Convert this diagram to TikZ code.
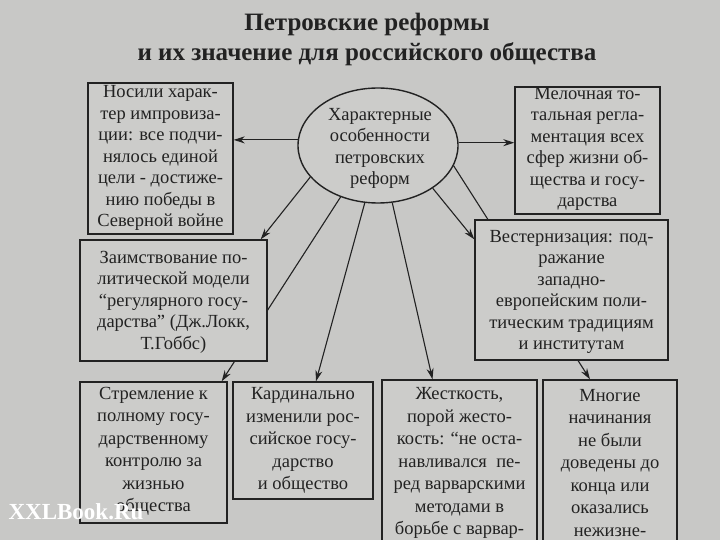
\documentclass[tikz,border=0pt]{standalone}
\usepackage{fontspec}
\setmainfont{Liberation Serif}
\usetikzlibrary{arrows.meta,shapes.geometric,calc}
\definecolor{paper}{RGB}{200,200,198}
\definecolor{boxfill}{RGB}{204,204,202}
\definecolor{ink}{RGB}{34,34,34}
\pgfdeclarelayer{bg}
\pgfsetlayers{bg,main}
\begin{document}
\begin{tikzpicture}[x=1pt,y=-1pt,
  box/.style={draw=ink,line width=1.4pt,fill=boxfill,rectangle,inner sep=0pt},
  ellbox/.style={draw=ink,line width=1.4pt,fill=boxfill,ellipse,inner sep=0pt,minimum width=160pt,minimum height=115pt},
  txt/.style={align=center,text=ink,inner sep=0pt,font=\fontsize{18.5}{21.5}\selectfont},
  txtb/.style={align=center,text=ink,inner sep=0pt,font=\fontsize{18.5}{22.5}\selectfont},
  arr/.style={draw=ink,line width=1.1pt,-{Stealth[length=11pt,width=7pt]}}]
\useasboundingbox (0,0) rectangle (720,540);
\begin{pgfonlayer}{bg}
\fill[paper] (0,0) rectangle (720,540);
\end{pgfonlayer}

\node[font=\bfseries\fontsize{25}{30}\selectfont,text=ink,align=center,inner sep=0pt] (title) at (367,39)
  {Петровские реформы\\и их значение для российского общества};

% boxes
\node[box,minimum width=145pt,minimum height=151pt] (b1) at (160.5,158.5) {};
\node[ellbox] (ell) at (378,145.5) {};
\node[box,minimum width=145pt,minimum height=127pt] (bTR) at (587.5,150.5) {};
\node[box,minimum width=193pt,minimum height=140pt] (bW) at (571.5,290) {};
\node[box,minimum width=187pt,minimum height=121pt] (bZ) at (173.5,300.5) {};
\node[box,minimum width=147pt,minimum height=141pt] (bS) at (153.5,452.5) {};
\node[box,minimum width=140pt,minimum height=117pt] (bK) at (303,440.5) {};
\node[box,minimum width=155pt,minimum height=220pt] (bJ) at (459.5,490) {};
\node[box,minimum width=134pt,minimum height=220pt] (bM) at (610,490) {};

% texts
\node[txt] (t1) at (160.5,158) {Носили харак-\\тер импровиза-\\ции: все подчи-\\нялось единой\\цели - достиже-\\нию победы в\\Северной войне};
\node[txt] (tE) at (380,148.5) {Характерные\\особенности\\петровских\\реформ};
\node[txt] (tTR) at (587.5,149) {Мелочная то-\\тальная регла-\\ментация всех\\сфер жизни об-\\щества и госу-\\дарства};
\node[txt] (tW) at (571.5,292) {Вестернизация: под-\\ражание\\западно-\\европейским поли-\\тическим традициям\\и институтам};
\node[txt] (tZ) at (173.5,302) {Заимствование по-\\литической модели\\“регулярного госу-\\дарства” (Дж.Локк,\\Т.Гоббс)};
\node[txtb] (tS) at (153.5,451.5) {Стремление к\\полному госу-\\дарственному\\контролю за\\жизнью\\общества};
\node[txtb] (tK) at (303,440.5) {Кардинально\\изменили рос-\\сийское госу-\\дарство\\и общество};
\node[txtb] (tJ) at (459.5,463) {Жесткость,\\порой жесто-\\кость: “не оста-\\навливался~~пе-\\ред варварскими\\методами в\\борьбе с варвар-};
\node[txtb] (tM) at (610,463) {Многие\\начинания\\не были\\доведены до\\конца или\\оказались\\нежизне-};

% watermark
\node[font=\bfseries\fontsize{23}{23}\selectfont,text=white,inner sep=0pt] (wm) at (76,512) {XXLBook.Ru};

% connectors (behind boxes)
\begin{pgfonlayer}{bg}
\draw[arr] (ell.176) -- (ell.176 -| b1.east);
\draw[arr] (ell.2) -- (ell.2 -| bTR.west);
\draw[arr] (ell.205) -- ($(bZ.north east)+(-7,0)$);
\draw[arr] (ell.234) -- ($(bS.north east)+(-6,0)$);
\draw[arr] (ell.257) -- ($(bK.north)+(13,0)$);
\draw[arr] (ell.284) -- ($(bJ.north)+(-27,0)$);
\draw[arr] (ell.322) -- ($(bW.north west)+(0,20)$);
\draw[arr] (ell.345) -- ($(bM.north)+(-20,0)$);
\end{pgfonlayer}
\end{tikzpicture}
\end{document}
